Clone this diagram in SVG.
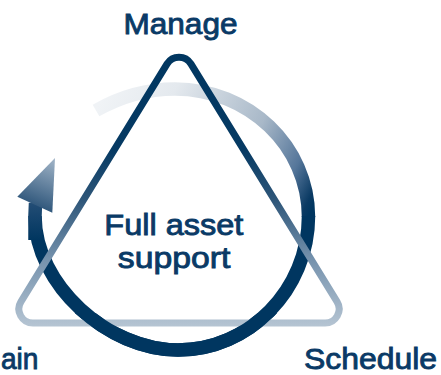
<svg xmlns="http://www.w3.org/2000/svg" width="441" height="375" viewBox="0 0 441 375">
  <style>
    .lbl { font-family: "Liberation Sans", Arial, sans-serif; font-size: 30px; fill: #0a3a66; stroke: #0a3a66; stroke-width: 0.9px; }
    .ring { fill: none; stroke-width: 13.5; stroke-linecap: butt; }
    .tri { fill: none; stroke-width: 7; stroke-linejoin: round; }
  </style>
  <defs>
    <linearGradient id="gTail" gradientUnits="userSpaceOnUse" x1="96" y1="110" x2="308" y2="217">
      <stop offset="0" stop-color="#f0f3f6"/>
      <stop offset="0.26" stop-color="#e4e9ee"/>
      <stop offset="0.65" stop-color="#a8b8c8"/>
      <stop offset="0.86" stop-color="#55769a"/>
      <stop offset="0.97" stop-color="#0a3a63"/>
      <stop offset="1" stop-color="#003660"/>
    </linearGradient>
    <linearGradient id="gShaft" gradientUnits="userSpaceOnUse" x1="0" y1="240" x2="0" y2="203">
      <stop offset="0" stop-color="#003660"/>
      <stop offset="1" stop-color="#234d75"/>
    </linearGradient>
    <linearGradient id="gHead" gradientUnits="userSpaceOnUse" x1="35" y1="208" x2="55" y2="158">
      <stop offset="0" stop-color="#2c5479"/>
      <stop offset="1" stop-color="#a3b6c9"/>
    </linearGradient>
    <linearGradient id="gTri" gradientUnits="userSpaceOnUse" x1="0" y1="45" x2="0" y2="327">
      <stop offset="0" stop-color="#003660"/>
      <stop offset="0.37" stop-color="#063a63"/>
      <stop offset="0.55" stop-color="#2e5679"/>
      <stop offset="0.76" stop-color="#7592ad"/>
      <stop offset="1" stop-color="#b6c5d3"/>
    </linearGradient>
    <clipPath id="bottomClip">
      <rect x="0" y="313" width="441" height="62"/>
    </clipPath>
  </defs>

  <g id="connectors">
    <g id="cycle-arrow">
      <path class="ring" stroke="url(#gTail)" d="M 96 110.5 C 118 98 146 89 175 89 C 248.7 89 308.5 146.3 308.5 217"/>
      <path class="ring" stroke="#003660" d="M 308.5 216 C 308.5 290 249 350 178 350 C 108 350 35 285 35 216"/>
      <path class="ring" stroke="url(#gShaft)" d="M 35 240 C 35 230 35 222 35 216 L 35.5 203"/>
      <polygon fill="url(#gHead)" points="55,158 17.3,196.7 52.3,212.7"/>
    </g>
  </g>

  <g id="triangle">
    <path class="tri" stroke="url(#gTri)" d="M 167.07 63.83 L 21 301.67 A 14 14 0 0 0 32.93 323 L 325.07 323 A 14 14 0 0 0 337 301.67 L 190.93 63.83 A 14 14 0 0 0 167.07 63.83 Z"/>
  </g>

  <g id="cycle-arrow-front" clip-path="url(#bottomClip)">
    <path class="ring" stroke="#003660" d="M 308.5 216 C 308.5 290 249 350 178 350 C 108 350 35 285 35 216"/>
  </g>

  <g id="node-manage">
    <text class="lbl" x="180.5" y="33.5" text-anchor="middle" textLength="114" lengthAdjust="spacingAndGlyphs">Manage</text>
  </g>
  <g id="node-schedule">
    <text class="lbl" x="304" y="368.5" textLength="133" lengthAdjust="spacingAndGlyphs">Schedule</text>
  </g>
  <g id="node-maintain">
    <text class="lbl" x="1" y="368.5" textLength="37.5" lengthAdjust="spacingAndGlyphs">ain</text>
  </g>
  <g id="node-center">
    <text class="lbl" x="104.3" y="235" textLength="139" lengthAdjust="spacingAndGlyphs">Full asset</text>
    <text class="lbl" x="117.8" y="268" textLength="112.5" lengthAdjust="spacingAndGlyphs">support</text>
  </g>
</svg>
